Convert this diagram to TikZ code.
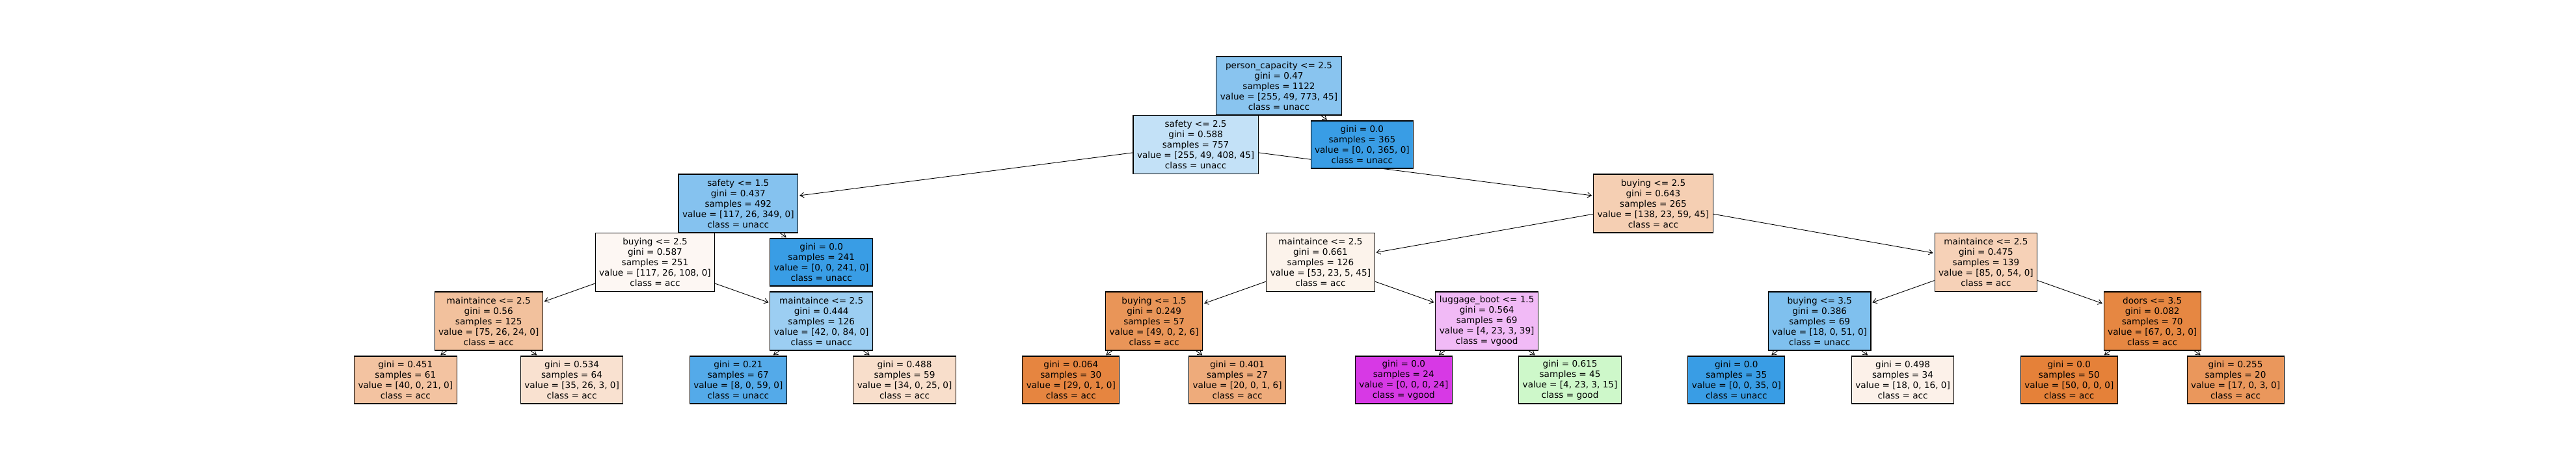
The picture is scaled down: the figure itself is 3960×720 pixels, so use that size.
\documentclass[tikz,border=0pt]{standalone}
\usepackage{fontspec}
\setmainfont{DejaVu Sans}
\usetikzlibrary{positioning}
\usetikzlibrary{arrows.meta}
\usetikzlibrary{backgrounds}

% node fills
\definecolor{colroot}{RGB}{137,196,239}
\definecolor{cols25}{RGB}{195,225,247}
\definecolor{colunacc}{RGB}{57,157,229}
\definecolor{cols15}{RGB}{133,194,239}
\definecolor{colb265}{RGB}{245,207,179}
\definecolor{colb251}{RGB}{253,247,243}
\definecolor{colm661}{RGB}{252,243,235}
\definecolor{colm475}{RGB}{246,209,183}
\definecolor{colm56}{RGB}{242,193,157}
\definecolor{colm444}{RGB}{156,206,242}
\definecolor{colb15}{RGB}{233,149,88}
\definecolor{collug}{RGB}{241,186,246}
\definecolor{colb35}{RGB}{127,192,238}
\definecolor{coldoors}{RGB}{230,135,66}
\definecolor{coll451}{RGB}{243,195,161}
\definecolor{coll534}{RGB}{249,225,208}
\definecolor{coll21}{RGB}{84,170,233}
\definecolor{coll488}{RGB}{248,222,203}
\definecolor{coll064}{RGB}{230,133,64}
\definecolor{coll401}{RGB}{238,171,123}
\definecolor{colvgood}{RGB}{215,57,229}
\definecolor{coll615}{RGB}{206,248,202}
\definecolor{coll498}{RGB}{252,241,233}
\definecolor{colacc}{RGB}{229,129,57}
\definecolor{coll255}{RGB}{234,151,92}

\begin{document}
\begin{tikzpicture}[
  x=1pt, y=1pt,
  node distance=90.5pt and 255.75pt,
  treenode/.style={draw,line width=1.1pt,rectangle,align=center,on grid,
    font=\fontsize{13.6}{16}\selectfont,inner xsep=6pt,inner ysep=0pt,minimum height=90pt},
  leafnode/.style={treenode,minimum height=73pt},
  >={Straight Barb[length=6pt,width=8pt]}
]
\useasboundingbox (0,0) rectangle (3960,-720);

\node[treenode,fill=colroot] (root) at (1966,-132) {person\_capacity <= 2.5\\gini = 0.47\\samples = 1122\\value = [255, 49, 773, 45]\\class = unacc};

% depth 1
\node[treenode,fill=cols25,below left=90.5pt and 127.875pt of root] (s25) {safety <= 2.5\\gini = 0.588\\samples = 757\\value = [255, 49, 408, 45]\\class = unacc};
\node[leafnode,fill=colunacc,below right=90.5pt and 127.875pt of root] (g365) {gini = 0.0\\samples = 365\\value = [0, 0, 365, 0]\\class = unacc};

% depth 2
\node[treenode,fill=cols15,below left=90.5pt and 703.3pt of s25] (s15) {safety <= 1.5\\gini = 0.437\\samples = 492\\value = [117, 26, 349, 0]\\class = unacc};
\node[treenode,fill=colb265,below right=90.5pt and 703.3pt of s25] (b265) {buying <= 2.5\\gini = 0.643\\samples = 265\\value = [138, 23, 59, 45]\\class = acc};

% depth 3
\node[treenode,fill=colb251,below left=90.5pt and 127.875pt of s15] (b251) {buying <= 2.5\\gini = 0.587\\samples = 251\\value = [117, 26, 108, 0]\\class = acc};
\node[leafnode,fill=colunacc,below right=90.5pt and 127.875pt of s15] (g241) {gini = 0.0\\samples = 241\\value = [0, 0, 241, 0]\\class = unacc};
\node[treenode,fill=colm661,below left=90.5pt and 511.5pt of b265] (m661) {maintaince <= 2.5\\gini = 0.661\\samples = 126\\value = [53, 23, 5, 45]\\class = acc};
\node[treenode,fill=colm475,below right=90.5pt and 511.5pt of b265] (m475) {maintaince <= 2.5\\gini = 0.475\\samples = 139\\value = [85, 0, 54, 0]\\class = acc};

% depth 4
\node[treenode,fill=colm56,below left=of b251] (m56) {maintaince <= 2.5\\gini = 0.56\\samples = 125\\value = [75, 26, 24, 0]\\class = acc};
\node[treenode,fill=colm444,below right=of b251] (m444) {maintaince <= 2.5\\gini = 0.444\\samples = 126\\value = [42, 0, 84, 0]\\class = unacc};
\node[treenode,fill=colb15,below left=of m661] (b15) {buying <= 1.5\\gini = 0.249\\samples = 57\\value = [49, 0, 2, 6]\\class = acc};
\node[treenode,fill=collug,below right=of m661] (lug) {luggage\_boot <= 1.5\\gini = 0.564\\samples = 69\\value = [4, 23, 3, 39]\\class = vgood};
\node[treenode,fill=colb35,below left=of m475] (b35) {buying <= 3.5\\gini = 0.386\\samples = 69\\value = [18, 0, 51, 0]\\class = unacc};
\node[treenode,fill=coldoors,below right=of m475] (doors) {doors <= 3.5\\gini = 0.082\\samples = 70\\value = [67, 0, 3, 0]\\class = acc};

% leaves
\node[leafnode,fill=coll451,below left=90.5pt and 127.875pt of m56] (l451) {gini = 0.451\\samples = 61\\value = [40, 0, 21, 0]\\class = acc};
\node[leafnode,fill=coll534,below right=90.5pt and 127.875pt of m56] (l534) {gini = 0.534\\samples = 64\\value = [35, 26, 3, 0]\\class = acc};
\node[leafnode,fill=coll21,below left=90.5pt and 127.875pt of m444] (l21) {gini = 0.21\\samples = 67\\value = [8, 0, 59, 0]\\class = unacc};
\node[leafnode,fill=coll488,below right=90.5pt and 127.875pt of m444] (l488) {gini = 0.488\\samples = 59\\value = [34, 0, 25, 0]\\class = acc};
\node[leafnode,fill=coll064,below left=90.5pt and 127.875pt of b15] (l064) {gini = 0.064\\samples = 30\\value = [29, 0, 1, 0]\\class = acc};
\node[leafnode,fill=coll401,below right=90.5pt and 127.875pt of b15] (l401) {gini = 0.401\\samples = 27\\value = [20, 0, 1, 6]\\class = acc};
\node[leafnode,fill=colvgood,below left=90.5pt and 127.875pt of lug] (l024) {gini = 0.0\\samples = 24\\value = [0, 0, 0, 24]\\class = vgood};
\node[leafnode,fill=coll615,below right=90.5pt and 127.875pt of lug] (l615) {gini = 0.615\\samples = 45\\value = [4, 23, 3, 15]\\class = good};
\node[leafnode,fill=colunacc,below left=90.5pt and 127.875pt of b35] (l035) {gini = 0.0\\samples = 35\\value = [0, 0, 35, 0]\\class = unacc};
\node[leafnode,fill=coll498,below right=90.5pt and 127.875pt of b35] (l498) {gini = 0.498\\samples = 34\\value = [18, 0, 16, 0]\\class = acc};
\node[leafnode,fill=colacc,below left=90.5pt and 127.875pt of doors] (l050) {gini = 0.0\\samples = 50\\value = [50, 0, 0, 0]\\class = acc};
\node[leafnode,fill=coll255,below right=90.5pt and 127.875pt of doors] (l255) {gini = 0.255\\samples = 20\\value = [17, 0, 3, 0]\\class = acc};

\begin{pgfonlayer}{background}
\path[line width=0.9pt,shorten >=2pt]
(root) edge[->] (s25)
(root) edge[->] (g365)
(s25) edge[->] (s15)
(s25) edge[->] (b265)
(s15) edge[->] (b251)
(s15) edge[->] (g241)
(b265) edge[->] (m661)
(b265) edge[->] (m475)
(b251) edge[->] (m56)
(b251) edge[->] (m444)
(m661) edge[->] (b15)
(m661) edge[->] (lug)
(m475) edge[->] (b35)
(m475) edge[->] (doors)
(m56) edge[->] (l451)
(m56) edge[->] (l534)
(m444) edge[->] (l21)
(m444) edge[->] (l488)
(b15) edge[->] (l064)
(b15) edge[->] (l401)
(lug) edge[->] (l024)
(lug) edge[->] (l615)
(b35) edge[->] (l035)
(b35) edge[->] (l498)
(doors) edge[->] (l050)
(doors) edge[->] (l255)
;
\end{pgfonlayer}

\end{tikzpicture}
\end{document}
